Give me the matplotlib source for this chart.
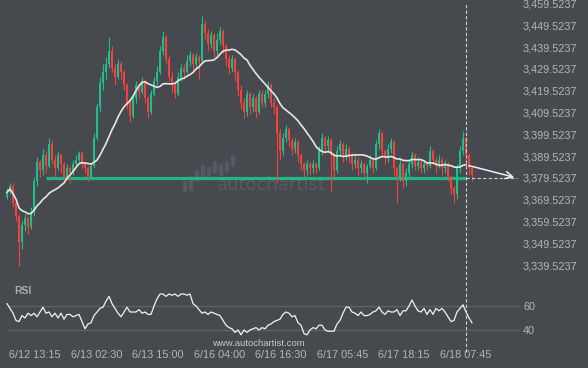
import matplotlib
matplotlib.use("Agg")
import matplotlib.pyplot as plt
import numpy as np
import pandas as pd

# ---------------- data ----------------
first_open = 3371
closes = [3373, 3376, 3368, 3362, 3350, 3358, 3361, 3357, 3364, 3378,
          3387, 3383, 3390, 3385, 3395, 3388, 3384, 3390, 3386, 3380,
          3384, 3382, 3386, 3388, 3391, 3386, 3384, 3380, 3385, 3398,
          3412, 3423, 3428, 3432, 3438, 3430, 3426, 3432, 3428, 3422,
          3414, 3408, 3416, 3422, 3419, 3424, 3416, 3410, 3418, 3424,
          3428, 3438, 3444, 3434, 3426, 3422, 3418, 3426, 3430, 3428,
          3433, 3436, 3432, 3435, 3433, 3450, 3446, 3441, 3445, 3438,
          3443, 3447, 3440, 3434, 3430, 3434, 3428, 3420, 3414, 3410,
          3418, 3412, 3416, 3410, 3418, 3414, 3418, 3422, 3414, 3412,
          3400, 3392, 3398, 3402, 3397, 3393, 3396, 3390, 3386, 3383,
          3386, 3384, 3386, 3384, 3392, 3398, 3394, 3397, 3390, 3383,
          3392, 3395, 3390, 3393, 3390, 3386, 3388, 3384, 3386, 3382,
          3385, 3388, 3384, 3395, 3400, 3392, 3389, 3393, 3396, 3384,
          3380, 3386, 3378, 3382, 3386, 3390, 3385, 3387, 3384, 3386,
          3385, 3392, 3388, 3385, 3388, 3384, 3386, 3380, 3375, 3372,
          3384, 3392, 3398, 3390, 3384, 3381]
highs = [3375, 3377, 3377, 3370, 3363, 3360, 3363, 3362, 3366, 3380,
         3389, 3388, 3393, 3392, 3398, 3397, 3390, 3392, 3391, 3387,
         3386, 3385, 3388, 3390, 3392, 3392, 3387, 3385, 3386, 3400,
         3414, 3426, 3432, 3435, 3444, 3440, 3432, 3434, 3433, 3429,
         3423, 3416, 3418, 3424, 3423, 3426, 3425, 3417, 3420, 3426,
         3431, 3440, 3447, 3445, 3436, 3428, 3424, 3428, 3432, 3432,
         3436, 3438, 3437, 3437, 3436, 3454, 3452, 3448, 3447, 3446,
         3446, 3449, 3448, 3441, 3436, 3436, 3435, 3429, 3422, 3416,
         3420, 3419, 3418, 3417, 3420, 3420, 3420, 3424, 3423, 3416,
         3413, 3402, 3400, 3404, 3403, 3398, 3398, 3397, 3391, 3387,
         3388, 3387, 3388, 3387, 3394, 3400, 3399, 3399, 3398, 3391,
         3394, 3397, 3396, 3395, 3394, 3391, 3390, 3389, 3388, 3387,
         3386, 3390, 3389, 3397, 3402, 3401, 3393, 3395, 3398, 3397,
         3385, 3388, 3387, 3384, 3388, 3392, 3391, 3389, 3388, 3388,
         3387, 3394, 3393, 3389, 3390, 3389, 3388, 3387, 3381, 3376,
         3386, 3394, 3401, 3399, 3391, 3385]
lows = [3370, 3372, 3366, 3360, 3339, 3347, 3355, 3354, 3356, 3362,
        3376, 3380, 3381, 3382, 3384, 3386, 3380, 3383, 3382, 3378,
        3379, 3377, 3381, 3385, 3387, 3384, 3382, 3378, 3379, 3384,
        3397, 3410, 3420, 3425, 3430, 3428, 3422, 3425, 3425, 3420,
        3411, 3405, 3407, 3414, 3416, 3418, 3414, 3407, 3409, 3417,
        3422, 3427, 3436, 3432, 3424, 3419, 3416, 3417, 3424, 3425,
        3427, 3431, 3429, 3430, 3425, 3432, 3443, 3438, 3439, 3435,
        3436, 3441, 3437, 3431, 3427, 3428, 3424, 3417, 3411, 3407,
        3408, 3409, 3410, 3407, 3409, 3412, 3412, 3416, 3412, 3409,
        3377, 3388, 3390, 3396, 3394, 3390, 3391, 3387, 3383, 3380,
        3381, 3381, 3382, 3382, 3383, 3390, 3391, 3392, 3373, 3380,
        3382, 3390, 3387, 3388, 3387, 3383, 3384, 3381, 3382, 3379,
        3377, 3384, 3382, 3383, 3393, 3390, 3386, 3387, 3391, 3381,
        3368, 3378, 3375, 3376, 3380, 3384, 3383, 3383, 3382, 3382,
        3383, 3384, 3386, 3382, 3384, 3381, 3382, 3378, 3372, 3368,
        3370, 3382, 3390, 3388, 3381, 3378]
rsi = [62, 58, 54, 48, 47, 52, 50, 54, 52, 54,
       51, 55, 59, 54, 55, 51, 54, 50, 54, 49,
       53, 53, 51, 52, 53, 47, 41, 45, 46, 52,
       55, 58, 59, 64, 68, 62, 58, 54, 51, 55,
       59, 55, 55, 55, 57, 54, 55, 53, 53, 60,
       66, 70, 70, 68, 70, 69, 70, 68, 70, 70,
       69, 70, 62, 60, 57, 54, 55, 53, 55, 54,
       53, 52, 48, 44, 42, 41, 38, 40, 36, 40,
       38, 40, 41, 42, 40, 42, 41, 44, 45, 47,
       48, 49, 53, 55, 54, 51, 52, 46, 44, 37,
       36, 40, 42, 41, 44, 44, 40, 39, 39, 39,
       45, 48, 54, 59, 59, 55, 54, 52, 55, 52,
       52, 53, 55, 56, 59, 55, 53, 56, 55, 55,
       57, 52, 56, 56, 60, 65, 60, 56, 55, 58,
       53, 57, 53, 58, 56, 58, 55, 51, 47, 48,
       55, 58, 61, 55, 50, 46]
support_level = 3379.5237
support_start = 13
signal_bar = 153
target_bar = 170
ma_window = 16
price_ticks = [3339.5237 + 10 * k for k in range(13)]
rsi_ticks = [40, 60]
time_labels = ["6/12 13:15", "6/13 02:30", "6/13 15:00", "6/16 04:00",
               "6/16 16:30", "6/17 05:45", "6/17 18:15", "6/18 07:45"]
time_label_bars = [9.3, 30, 50.3, 71, 91.3, 112, 132.3, 153]

# ---------------- styling ----------------
BG = "#46494e"
GREEN = "#1fbf8c"
RED = "#f5403c"
TXT = "#b3b6ba"
FONT = ["Liberation Sans", "DejaVu Sans"]
plt.rcParams["font.family"] = FONT

closes_a = np.array(closes, dtype=float)
opens_a = np.concatenate([[first_open], closes_a[:-1]])
highs_a = np.array(highs, dtype=float)
lows_a = np.array(lows, dtype=float)
idx = np.arange(len(closes_a))
ma = pd.Series(closes_a).rolling(ma_window, min_periods=1).mean().values

W, H = 588, 368
fig = plt.figure(figsize=(W / 100, H / 100), dpi=100, facecolor=BG)
ax = fig.add_axes([0, 88 / H, 1, 280 / H], facecolor=BG)
ax2 = fig.add_axes([0, 23 / H, 1, 60 / H], facecolor=BG, sharex=ax)

for a in (ax, ax2):
    for s in a.spines.values():
        s.set_visible(False)

xmin, xmax = -7 / 3, 581 / 3
ax.set_xlim(xmin, xmax)
ax.set_ylim(3332.73, 3461.17)
ax2.set_ylim(27.5, 77.5)

# candles
up = closes_a >= opens_a
cols = np.where(up, GREEN, RED)
ax.vlines(idx, lows_a, highs_a, colors=cols, lw=0.8, zorder=3)
body_lo = np.minimum(opens_a, closes_a)
body_h = np.maximum(np.abs(closes_a - opens_a), 0.3)
ax.bar(idx, body_h, bottom=body_lo, width=0.62, color=cols, lw=0, zorder=3)

# moving average
ax.plot(idx[:signal_bar + 1], ma[:signal_bar + 1], color="#e6e6e6", lw=1.2, zorder=4)

# support line
ax.hlines(support_level, support_start, signal_bar, color="#1db685", lw=2.3, zorder=2)
ax.hlines(support_level, signal_bar, target_bar, color="#d0d0d0", lw=0.8,
          linestyles=(0, (3, 2)), zorder=4)
ax.annotate("", xy=(target_bar, support_level), xytext=(signal_bar, ma[signal_bar]),
            arrowprops=dict(arrowstyle="->", color="#f0f0f0", lw=1.1,
                            mutation_scale=13), zorder=5)

# vertical dashed line
ax.axvline(signal_bar, ymin=0, ymax=(280 - 4) / 280, color="#d0d0d0", lw=0.8,
           ls=(0, (3, 2)), zorder=4)
ax2.axvline(signal_bar, ymin=-7 / 60, ymax=1 + 5 / 60, color="#d0d0d0", lw=0.8,
            ls=(0, (3, 2)), zorder=4, clip_on=False)

# watermark
ax.text(217 / W, (280 - 190) / 280, "autochartist", transform=ax.transAxes,
        fontsize=13, color="#585c62", family="DejaVu Sans", va="baseline",
        ha="left", zorder=1)
logo = [(185, 183, 190), (191, 178, 189), (197, 172, 180), (203, 167, 176),
        (209, 169, 175), (215, 163, 172), (221, 166, 174), (227, 163, 171),
        (233, 157, 165)]
for lx, y0, y1 in logo:
    ax.plot([lx / W, lx / W], [(280 - y0) / 280, (280 - y1) / 280],
            transform=ax.transAxes, color="#56595f", lw=3.2,
            solid_capstyle="round", zorder=1)

# price axis labels
ax.set_yticks(price_ticks)
ax.set_yticklabels([f"{v:,.4f}" for v in price_ticks])
ax.yaxis.set_ticks_position("right")
ax.tick_params(axis="y", length=0, pad=-46.8, labelsize=7.8, colors=TXT,
               labelright=True, labelleft=False)
ax.tick_params(axis="x", length=0, labelbottom=False)

# RSI panel
ax2.plot(idx, rsi, color="#f2f2f2", lw=0.9, zorder=3)
ax2.hlines(rsi_ticks, 0, 171, color="#5e6267", lw=1, zorder=1)
ax2.set_yticks(rsi_ticks)
ax2.yaxis.set_ticks_position("right")
ax2.tick_params(axis="y", length=0, pad=-46.8, labelsize=7.8, colors=TXT,
                labelright=True, labelleft=False)
ax2.set_xticks(time_label_bars)
ax2.set_xticklabels(time_labels)
ax2.tick_params(axis="x", length=0, pad=3.5, labelsize=7.8, colors=TXT)
ax2.text(14 / W, 0.9, "RSI", transform=ax2.transAxes, fontsize=7.5,
         fontweight="bold", color="#a9adb2", va="center", ha="left")
ax2.text(258 / W, 0.02, "www.autochartist.com", transform=ax2.transAxes,
         fontsize=6.8, color="#c6c8cb", va="center", ha="center")

fig.savefig("out.png", dpi=100, facecolor=BG)
